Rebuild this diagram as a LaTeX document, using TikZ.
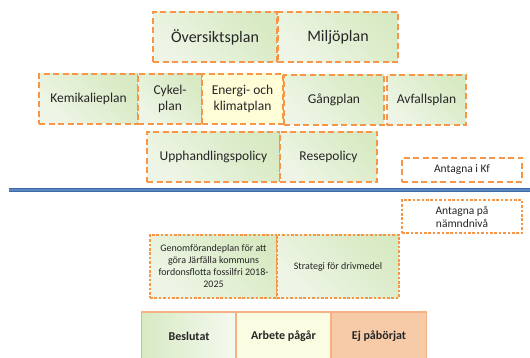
\documentclass[tikz,border=0pt]{standalone}
\usepackage{fontspec}
\setmainfont{Carlito}
\definecolor{edge}{HTML}{F79646}
\definecolor{legedge}{HTML}{F4B183}
\definecolor{grnA}{HTML}{EEF5E6}
\definecolor{grnB}{HTML}{D8EAC3}
\definecolor{ylw}{HTML}{FFFDD8}
\definecolor{ylwL}{HTML}{FAFDE2}
\definecolor{peach}{HTML}{F8CBA8}
\definecolor{txt}{HTML}{262626}
\definecolor{rule}{HTML}{3E6BA8}
\definecolor{ruleIn}{HTML}{5B86C0}
\begin{document}
\begin{tikzpicture}[x=1pt,y=-1pt,
      plan/.style={draw=edge,line width=2pt,dash pattern=on 6pt off 3.5pt,
        left color=grnA,right color=grnB,shading angle=135,
        text=txt,align=center,inner sep=1pt,minimum height=50pt},
      local/.style={plan,dash pattern=on 2.6pt off 1.8pt,line width=2.8pt},
      legbox/.style={draw=legedge,line width=1.2pt,text=txt,
        minimum width=95pt,minimum height=48pt,font=\fontsize{12}{14}\selectfont\bfseries},
    ]
    \clip (0,0) rectangle (530,358);
    % kommunfullmaktige
    \node[plan,minimum width=124pt,font=\fontsize{16}{18}\selectfont] (oversikt) at (215,37) {Översiktsplan};
    \node[plan,minimum width=120pt,font=\fontsize{16}{18}\selectfont] (miljo) at (338,37) {Miljöplan};
    \node[plan,minimum width=99pt,font=\fontsize{13.5}{16}\selectfont] (kemi) at (88.5,99) {Kemikalieplan};
    \node[plan,minimum width=64pt,font=\fontsize{13.5}{16}\selectfont] (cykel) at (170,99) {Cykel-\\plan};
    \node[plan,fill=ylw,left color=ylw,right color=ylw,minimum width=81pt,
      font=\fontsize{13.5}{16}\selectfont] (energi) at (242.5,99) {Energi- och\\klimatplan};
    \node[plan,minimum width=100pt,font=\fontsize{13.5}{16}\selectfont] (gang) at (334,100) {Gångplan};
    \node[plan,minimum width=79pt,font=\fontsize{13.5}{16}\selectfont] (avfall) at (426.5,100) {Avfallsplan};
    \node[plan,minimum width=133pt,font=\fontsize{13.5}{16}\selectfont] (upph) at (213.5,157) {Upphandlingspolicy};
    \node[plan,minimum width=97pt,font=\fontsize{13.5}{16}\selectfont] (rese) at (328.5,157) {Resepolicy};
    \node[plan,left color=white,right color=white,minimum width=120pt,minimum height=24pt,
      font=\fontsize{11.5}{14}\selectfont] (kf) at (462,170) {Antagna i Kf};
    % skiljelinje
    \coordinate (ruleL) at (9,190);
    \coordinate (ruleR) at (530,190);
    \draw[rule,line width=3.6pt] (ruleL) -- (ruleR);
    \draw[ruleIn,line width=1.2pt] (ruleL) -- (ruleR);
    % namndniva
    \node[local,left color=white,right color=white,minimum width=120pt,minimum height=33pt,
      font=\fontsize{11.5}{13}\selectfont] (namnd) at (462,216.5) {Antagna på\\nämndnivå};
    \node[local,minimum width=127pt,minimum height=63pt,
      font=\fontsize{10}{12}\selectfont] (genom) at (213.5,266.5)
      {Genomförandeplan för att\\göra Järfälla kommuns\\fordonsflotta fossilfri 2018-\\2025};
    \node[local,minimum width=122pt,minimum height=63pt,
      font=\fontsize{10}{12}\selectfont] (strat) at (338,266.5) {Strategi för drivmedel};
    % teckenforklaring
    \node[legbox,left color=grnB,right color=grnA!60!white] (beslutat) at (189,336) {Beslutat};
    \node[legbox,fill=ylwL] (arbete) at (283.5,336) {Arbete pågår};
    \node[legbox,fill=peach] (ej) at (379,336) {Ej påbörjat};
  \end{tikzpicture}
\end{document}
